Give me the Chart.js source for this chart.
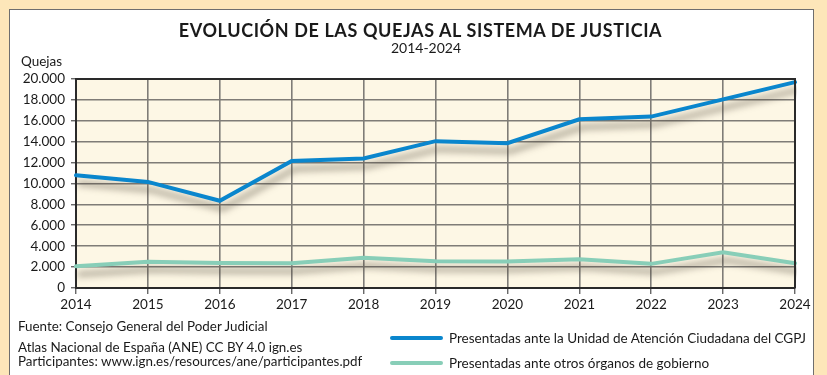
<!DOCTYPE html>
<html lang="es">
<head>
<meta charset="utf-8">
<script src="https://cdn.jsdelivr.net/npm/chart.js@4"></script>
<style>
  html, body { margin: 0; padding: 0; }
  body { width: 827px; height: 375px; background: #fde6b9; position: relative; overflow: hidden; font-family: Lato, "Noto Sans", sans-serif; color: #1a1a1a; }
  #panel { position: absolute; left: 9px; top: 9px; width: 803px; height: 380px; background: #fff; border: 1px solid #6e6e6e; }
  #chart { position: absolute; left: 0; top: 0; }
  .txt { position: absolute; white-space: nowrap; line-height: 1; }
  #title { left: 0; width: 841px; top: 21px; text-align: center; font-weight: bold; font-size: 18px; letter-spacing: 0.6px; }
  #subtitle { left: 0; width: 852px; top: 41px; text-align: center; font-size: 14px; }
  #ylab { left: 21px; top: 55px; font-size: 13.5px; }
  .note { left: 18px; font-size: 13.4px; }
  .leg { position: absolute; left: 390px; display: flex; align-items: center; font-size: 13.5px; }
  .leg span.sw { display: inline-block; width: 53px; height: 4px; border-radius: 2px; margin-right: 6px; }
</style>
</head>
<body>
<div id="panel"></div>
<canvas id="chart" width="827" height="375"></canvas>
<div class="txt" id="title">EVOLUCIÓN DE LAS QUEJAS AL SISTEMA DE JUSTICIA</div>
<div class="txt" id="subtitle">2014-2024</div>
<div class="txt" id="ylab">Quejas</div>
<div class="txt note" style="top:320px">Fuente: Consejo General del Poder Judicial</div>
<div class="txt note" style="top:341px">Atlas Nacional de España (ANE) CC BY 4.0 ign.es</div>
<div class="txt note" style="top:355px">Participantes: www.ign.es/resources/ane/participantes.pdf</div>
<div id="legend"></div>
<script>
const years = ['2014', '2015', '2016', '2017', '2018', '2019', '2020', '2021', '2022', '2023', '2024'];
const unidadCGPJ = [10800, 10150, 8350, 12150, 12400, 14050, 13850, 16150, 16400, 18050, 19700];
const otrosOrganos = [2080, 2520, 2400, 2370, 2900, 2560, 2530, 2750, 2310, 3420, 2370];
const seriesNames = [
    'Presentadas ante la Unidad de Atención Ciudadana del CGPJ',
    'Presentadas ante otros órganos de gobierno'
];
const seriesColors = ['#0a86cd', '#88ceb8'];

// 20000 -> "20.000"
function miles(v) {
    return String(v).replace(/\B(?=(\d{3})+(?!\d))/g, '.');
}

// cream plot background and dark frame around the plot area
const plotFrame = {
    id: 'plotFrame',
    beforeDraw(chart) {
        const a = chart.chartArea, c = chart.ctx;
        c.save();
        c.fillStyle = '#fdf7e5';
        c.fillRect(a.left, a.top, a.right - a.left, a.bottom - a.top);
        c.restore();
    },
    afterDatasetsDraw(chart) {
        const a = chart.chartArea, c = chart.ctx;
        c.save();
        c.strokeStyle = '#2a2a2a';
        c.lineWidth = 2;
        c.beginPath();
        c.moveTo(a.left, a.top);
        c.lineTo(a.right, a.top);
        c.lineTo(a.right, a.bottom);
        c.stroke();
        c.restore();
    }
};

// soft drop shadow under each line
const lineShadow = {
    id: 'lineShadow',
    beforeDatasetDraw(chart) {
        const c = chart.ctx;
        c.save();
        c.shadowColor = 'rgba(70, 60, 45, 0.55)';
        c.shadowBlur = 7;
        c.shadowOffsetX = 3;
        c.shadowOffsetY = 8;
    },
    afterDatasetDraw(chart) {
        chart.ctx.restore();
    }
};

new Chart(document.getElementById('chart'), {
    type: 'line',
    data: {
        labels: years,
        datasets: [
            { label: seriesNames[0], data: unidadCGPJ, borderColor: seriesColors[0] },
            { label: seriesNames[1], data: otrosOrganos, borderColor: seriesColors[1] }
        ].map(d => Object.assign(d, { borderWidth: 4, pointRadius: 0, tension: 0, fill: false, borderCapStyle: 'round' }))
    },
    options: {
        responsive: false,
        animation: false,
        events: [],
        layout: { padding: { left: 10, right: 32, top: 79, bottom: 63 } },
        plugins: { legend: { display: false }, tooltip: { enabled: false } },
        scales: {
            x: {
                type: 'category',
                offset: false,
                grid: { offset: false, color: '#7f7c77', lineWidth: 1.6, tickLength: 6, tickColor: '#2a2a2a', tickWidth: 1 },
                border: { color: '#2a2a2a', width: 2 },
                ticks: { color: '#1a1a1a', font: { family: 'Lato', size: 13.5 }, padding: 3, maxRotation: 0, autoSkip: false },
                afterFit(s) { s.height = 24; }
            },
            y: {
                min: 0,
                max: 20000,
                grid: { color: '#7f7c77', lineWidth: 1.6, tickLength: 5, tickColor: '#2a2a2a', tickWidth: 1 },
                border: { color: '#2a2a2a', width: 2 },
                ticks: { stepSize: 2000, color: '#1a1a1a', font: { family: 'Lato', size: 13.5 }, padding: 6, callback: v => miles(v) },
                afterFit(s) { s.width = 66; }
            }
        }
    },
    plugins: [plotFrame, lineShadow]
});

// legend stacked in the lower right
const legend = document.getElementById('legend');
seriesNames.forEach((name, i) => {
    const row = document.createElement('div');
    row.className = 'leg';
    row.style.top = (330 + i * 25) + 'px';
    row.innerHTML = '<span class="sw" style="background:' + seriesColors[i] + '"></span><span>' + name + '</span>';
    legend.appendChild(row);
});
</script>
</body>
</html>
